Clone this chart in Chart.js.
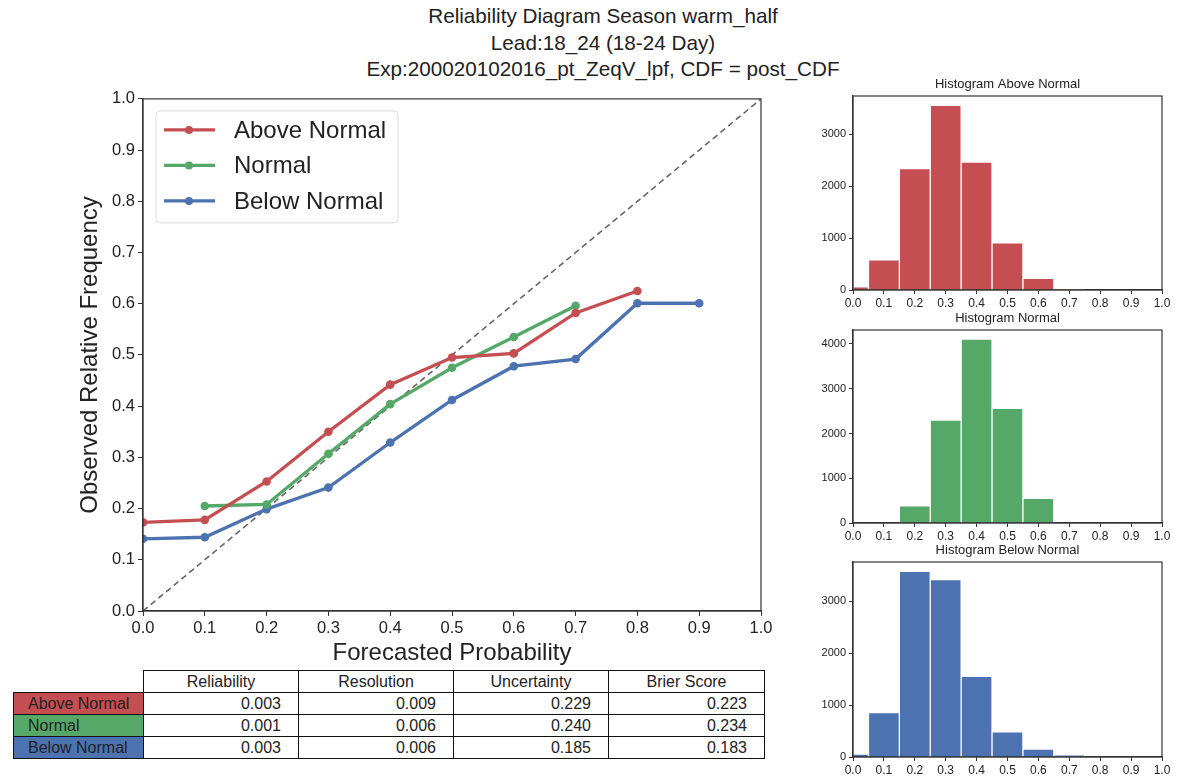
<!DOCTYPE html>
<html>
<head>
<meta charset="utf-8">
<script src="https://cdn.jsdelivr.net/npm/chart.js@4/dist/chart.umd.min.js"></script>
<style>
  html, body { margin:0; padding:0; background:#fff; width:1181px; height:779px; overflow:hidden; }
  body { position:relative; font-family:"Liberation Sans", Arial, sans-serif; }
  #title { position:absolute; left:0; top:3px; width:1206px; text-align:center; font-size:20.7px; line-height:26.5px; color:#222; }
  canvas { position:absolute; }
  #tbl { position:absolute; left:13px; top:670px; border-collapse:collapse; table-layout:fixed; width:751px; font-family:"Liberation Sans", Arial, sans-serif; font-size:16px; color:#222; }
  #tbl td { border:1px solid #111; height:21px; padding:0; line-height:21px; white-space:nowrap; overflow:hidden; }
  #tbl td.num { text-align:right; padding-right:17px; }
  #tbl td.hdr { text-align:center; }
  #tbl td.blank { border:none; }
  #tbl td.lab { text-align:left; padding-left:14px; }
</style>
</head>
<body>
<div id="title">Reliability Diagram Season warm_half<br>Lead:18_24 (18-24 Day)<br>Exp:200020102016_pt_ZeqV_lpf, CDF = post_CDF</div>
<canvas id="main" width="790" height="584" style="left:0;top:86px;width:790px;height:584px;"></canvas>
<canvas id="hA" width="381" height="240" style="left:800px;top:76px;width:381px;height:240px;"></canvas>
<canvas id="hN" width="381" height="239" style="left:800px;top:310px;width:381px;height:239px;"></canvas>
<canvas id="hB" width="381" height="241" style="left:800px;top:542px;width:381px;height:241px;"></canvas>
<table id="tbl"><colgroup><col style="width:130px"><col style="width:155px"><col style="width:155px"><col style="width:155px"><col style="width:156px"></colgroup><tbody id="tbody"></tbody></table>
<script>
// ---------- data ----------
const seriesNames = ["Above Normal", "Normal", "Below Normal"];
const seriesColors = ["#C44E52", "#55A868", "#4C72B0"];
const forecastBins = [0.0, 0.1, 0.2, 0.3, 0.4, 0.5, 0.6, 0.7, 0.8, 0.9];
const aboveObs  = [0.173, 0.178, 0.253, 0.350, 0.442, 0.495, 0.503, 0.582, 0.625, null];
const normalObs = [null, 0.205, 0.208, 0.307, 0.404, 0.475, 0.535, 0.596, null, null];
const belowObs  = [0.141, 0.144, 0.199, 0.241, 0.329, 0.412, 0.478, 0.492, 0.601, 0.601];

const histBins     = [0.0, 0.1, 0.2, 0.3, 0.4, 0.5, 0.6, 0.7, 0.8, 0.9, 1.0];
const aboveCounts  = [63, 583, 2340, 3558, 2462, 910, 225, 20, 0, 0, 0];
const normalCounts = [0, 0, 386, 2299, 4107, 2560, 551, 0, 0, 0, 0];
const belowCounts  = [58, 854, 3579, 3417, 1553, 485, 155, 31, 0, 0, 0];
const histTitles = ["Histogram Above Normal", "Histogram Normal", "Histogram Below Normal"];
const aboveTicks  = [0, 1000, 2000, 3000];
const normalTicks = [0, 1000, 2000, 3000, 4000];
const belowTicks  = [0, 1000, 2000, 3000];

const tableCols = ["Reliability", "Resolution", "Uncertainty", "Brier Score"];
const reliability = ["0.003", "0.001", "0.003"];
const resolution  = ["0.009", "0.006", "0.006"];
const uncertainty = ["0.229", "0.240", "0.185"];
const brierScore  = ["0.223", "0.234", "0.183"];

// ---------- helpers ----------
const FONT = '"Liberation Sans", Arial, sans-serif';
function toPoints(xs, ys) {
  const out = [];
  xs.forEach((x, i) => { if (ys[i] !== null && ys[i] !== undefined) out.push({x: x, y: ys[i]}); });
  return out;
}
const boxPlugin = {
  id: 'box',
  afterDraw(chart) {
    const {ctx, chartArea: a} = chart;
    ctx.save();
    ctx.strokeStyle = '#333';
    ctx.lineWidth = 1.2;
    ctx.strokeRect(a.left, a.top, a.right - a.left, a.bottom - a.top);
    ctx.restore();
  }
};

// ---------- main reliability chart ----------
const legendPlugin = {
  id: 'inlegend',
  afterDraw(chart) {
    const {ctx, chartArea: a} = chart;
    const x0 = a.left + 13, y0 = a.top + 12, w = 242, h = 112;
    ctx.save();
    ctx.fillStyle = 'rgba(255,255,255,0.85)';
    ctx.strokeStyle = '#ddd';
    ctx.lineWidth = 1;
    ctx.beginPath();
    if (ctx.roundRect) ctx.roundRect(x0, y0, w, h, 4); else ctx.rect(x0, y0, w, h);
    ctx.fill(); ctx.stroke();
    ctx.font = '24px ' + FONT;
    ctx.textBaseline = 'middle';
    for (let i = 0; i < 3; i++) {
      const ds = chart.data.datasets[i];
      const yy = y0 + 19 + i * 35.5;
      ctx.strokeStyle = ds.borderColor;
      ctx.lineWidth = 3.2;
      ctx.beginPath(); ctx.moveTo(x0 + 8, yy); ctx.lineTo(x0 + 59, yy); ctx.stroke();
      ctx.fillStyle = ds.borderColor;
      ctx.beginPath(); ctx.arc(x0 + 33, yy, 4, 0, Math.PI * 2); ctx.fill();
      ctx.fillStyle = '#222';
      ctx.fillText(ds.label, x0 + 78, yy + 1);
    }
    ctx.restore();
  }
};

const mainDatasets = [aboveObs, normalObs, belowObs].map((obs, i) => ({
  label: seriesNames[i],
  data: toPoints(forecastBins, obs),
  borderColor: seriesColors[i],
  backgroundColor: seriesColors[i],
  borderWidth: 3.3,
  pointRadius: 4.3,
  pointHoverRadius: 4.3,
  pointBorderWidth: 0,
  tension: 0
}));
mainDatasets.push({
  label: 'perfect',
  data: [{x: 0, y: 0}, {x: 1, y: 1}],
  borderColor: '#666',
  borderWidth: 1.6,
  borderDash: [6, 4],
  pointRadius: 0,
  tension: 0
});

new Chart(document.getElementById('main'), {
  type: 'line',
  data: { datasets: mainDatasets },
  options: {
    responsive: false, animation: false,
    layout: { padding: { left: 76, top: 10, right: 29, bottom: 0 } },
    plugins: { legend: { display: false }, tooltip: { enabled: false } },
    scales: {
      x: {
        type: 'linear', min: 0, max: 1,
        afterFit(s) { s.height = 59; },
        ticks: { stepSize: 0.1, color: '#222', font: { family: FONT, size: 16.5 }, padding: 3,
                 callback: v => Number(v).toFixed(1), maxRotation: 0 },
        grid: { drawOnChartArea: false, tickLength: 5, color: '#333' },
        border: { color: '#333', width: 1.2 },
        title: { display: true, text: 'Forecasted Probability', color: '#222', font: { family: FONT, size: 24 }, padding: { top: 4, bottom: 2 } }
      },
      y: {
        type: 'linear', min: 0, max: 1,
        afterFit(s) { s.width = 67; },
        ticks: { stepSize: 0.1, color: '#222', font: { family: FONT, size: 16.5 }, padding: 3,
                 callback: v => Number(v).toFixed(1) },
        grid: { drawOnChartArea: false, tickLength: 5, color: '#333' },
        border: { color: '#333', width: 1.2 },
        title: { display: true, text: 'Observed Relative Frequency', color: '#222', font: { family: FONT, size: 24 }, padding: { top: 0, bottom: 4 } }
      }
    }
  },
  plugins: [boxPlugin, legendPlugin]
});

// ---------- histograms ----------
function makeHist(id, counts, color, title, tickVals) {
  const titlePlugin = {
    id: 'htitle',
    afterDraw(chart) {
      const {ctx, chartArea: a} = chart;
      ctx.save();
      ctx.font = '13px ' + FONT;
      ctx.fillStyle = '#222';
      ctx.textAlign = 'center';
      ctx.textBaseline = 'alphabetic';
      ctx.fillText(title, (a.left + a.right) / 2, a.top - 8);
      ctx.restore();
    }
  };
  new Chart(document.getElementById(id), {
    type: 'bar',
    data: { datasets: [{
      data: toPoints(histBins, counts),
      backgroundColor: color,
      borderColor: '#ffffff',
      borderWidth: 1,
      categoryPercentage: 1.0,
      barPercentage: 1.0
    }] },
    options: {
      responsive: false, animation: false,
      layout: { padding: { left: 0, top: 20, right: 19, bottom: 0 } },
      plugins: { legend: { display: false }, tooltip: { enabled: false } },
      scales: {
        x: {
          type: 'linear', min: 0, max: 1, offset: false,
          afterFit(s) { s.height = 26; },
          ticks: { stepSize: 0.1, color: '#222', font: { family: FONT, size: 12 }, padding: 2,
                   callback: v => Number(v).toFixed(1), maxRotation: 0, autoSkip: false },
          grid: { drawOnChartArea: false, offset: false, tickLength: 4, color: '#333' },
          border: { color: '#333', width: 1.2 }
        },
        y: {
          type: 'linear', min: 0, max: Math.max(...counts) * 1.05,
          afterFit(s) { s.width = 53; },
          afterBuildTicks(s) { s.ticks = tickVals.map(v => ({ value: v })); },
          ticks: { color: '#222', font: { family: FONT, size: 11 }, padding: 3,
                   callback: v => String(v) },
          grid: { drawOnChartArea: false, tickLength: 4, color: '#333' },
          border: { color: '#333', width: 1.2 }
        }
      }
    },
    plugins: [boxPlugin, titlePlugin]
  });
}
makeHist('hA', aboveCounts, seriesColors[0], histTitles[0], aboveTicks);
makeHist('hN', normalCounts, seriesColors[1], histTitles[1], normalTicks);
makeHist('hB', belowCounts, seriesColors[2], histTitles[2], belowTicks);

// ---------- table ----------
const tb = document.getElementById('tbody');
let html = '<tr><td class="blank"></td>' + tableCols.map(c => '<td class="hdr">' + c + '</td>').join('') + '</tr>';
const cols = [reliability, resolution, uncertainty, brierScore];
seriesNames.forEach((n, i) => {
  html += '<tr><td class="lab" style="background:' + seriesColors[i] + '">' + n + '</td>' +
          cols.map(c => '<td class="num">' + c[i] + '</td>').join('') + '</tr>';
});
tb.innerHTML = html;
</script>
</body>
</html>
